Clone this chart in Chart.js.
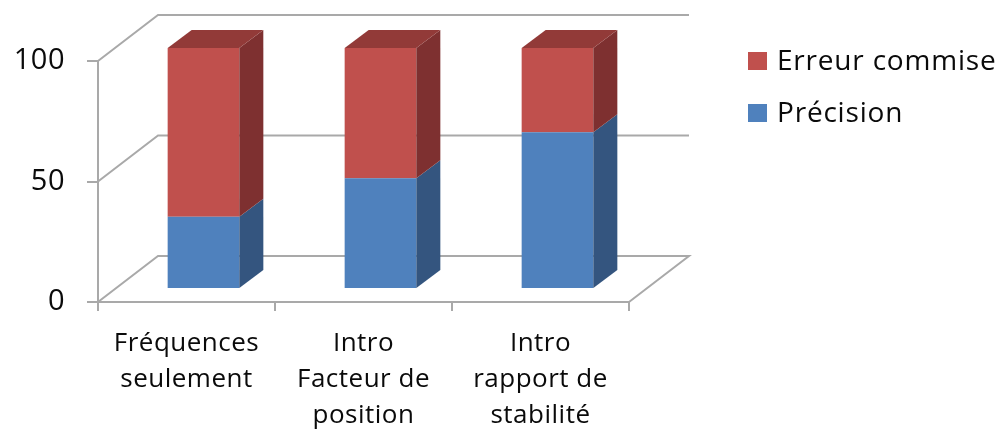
<!DOCTYPE html>
<html>
<head>
<meta charset="utf-8">
<script src="https://cdn.jsdelivr.net/npm/chart.js@4/dist/chart.umd.min.js"></script>
<style>
  html, body { margin: 0; padding: 0; background: #ffffff; }
  #wrap { width: 1008px; height: 431px; position: relative; }
</style>
</head>
<body>
<div id="wrap"><canvas id="chart"></canvas></div>
<script>
// ---- data ----
const categories = [
  ['Fréquences', 'seulement'],
  ['Intro', 'Facteur de', 'position'],
  ['Intro', 'rapport de', 'stabilité']
];
const precision = [30, 46, 65];
const erreur = [70, 54, 35];
const seriesNames = ['Précision', 'Erreur commise'];
const yTicks = [0, 50, 100];

// ---- styling ----
const FONT = 'Open Sans';
const TEXT = '#0a0a0a';
const GRID = '#a9a9a9';
const SPACING = '0.5px';
const BLUE = { front: '#4f81bd', side: '#34557f', top: '#3f6797' };
const RED  = { front: '#c0504d', side: '#7e3030', top: '#923a38' };

// oblique depth offsets (pixels)
const FRONT_DX = 17, FRONT_DY = -13;   // bar front faces sit behind the axis plane
const BAR_DX = 24,   BAR_DY = -18;     // thickness of each bar
const WALL_DX = 60,  WALL_DY = -46;    // back wall and floor depth

function poly(ctx, pts) {
  ctx.beginPath();
  ctx.moveTo(pts[0][0], pts[0][1]);
  for (let i = 1; i < pts.length; i++) ctx.lineTo(pts[i][0], pts[i][1]);
  ctx.closePath();
  ctx.fill();
}

// slightly wider text tracking for every label
const tracking = {
  id: 'tracking',
  beforeUpdate(chart) { chart.ctx.letterSpacing = SPACING; },
  beforeDraw(chart) { chart.ctx.letterSpacing = SPACING; }
};

// back wall, floor and the extruded sides/tops of the bars
const box3d = {
  id: 'box3d',
  beforeDatasetsDraw(chart) {
    const { ctx, chartArea: a, scales: { y } } = chart;
    ctx.save();
    ctx.strokeStyle = GRID;
    ctx.lineWidth = 2;
    yTicks.forEach(v => {
      const py = y.getPixelForValue(v);
      ctx.beginPath();
      ctx.moveTo(a.left, py);
      ctx.lineTo(a.left + WALL_DX, py + WALL_DY);
      ctx.lineTo(a.right + WALL_DX, py + WALL_DY);
      if (v === yTicks[0]) ctx.lineTo(a.right, py);
      ctx.stroke();
    });
    ctx.restore();
    ctx.save();
    ctx.translate(FRONT_DX, FRONT_DY);
  },
  afterDatasetsDraw(chart) {
    const ctx = chart.ctx;
    const n = chart.data.datasets.length;
    chart.data.datasets.forEach((ds, di) => {
      const meta = chart.getDatasetMeta(di);
      meta.data.forEach(bar => {
        const { x, y, base, width } = bar.getProps(['x', 'y', 'base', 'width'], true);
        const l = x - width / 2, r = x + width / 2;
        ctx.fillStyle = ds.sideColor;
        poly(ctx, [[r, y], [r + BAR_DX, y + BAR_DY], [r + BAR_DX, base + BAR_DY], [r, base]]);
        if (di === n - 1) {
          ctx.fillStyle = ds.topColor;
          poly(ctx, [[l, y], [l + BAR_DX, y + BAR_DY], [r + BAR_DX, y + BAR_DY], [r, y]]);
        }
      });
    });
    ctx.restore();
  }
};

// legend on the right, top series first
const sideLegend = {
  id: 'sideLegend',
  afterDraw(chart) {
    const ctx = chart.ctx;
    const items = chart.data.datasets.map(ds => ({ label: ds.label, color: ds.backgroundColor })).reverse();
    ctx.save();
    ctx.font = '28px "' + FONT + '"';
    ctx.letterSpacing = '0.8px';
    ctx.textBaseline = 'middle';
    ctx.textAlign = 'left';
    items.forEach((it, i) => {
      const cy = 61 + i * 52;
      ctx.fillStyle = it.color;
      ctx.fillRect(748, cy - 9, 19, 18);
      ctx.fillStyle = TEXT;
      ctx.fillText(it.label, 777, cy + 1);
    });
    ctx.restore();
  }
};

Chart.defaults.font.family = FONT;
Chart.defaults.color = TEXT;

new Chart(document.getElementById('chart'), {
  type: 'bar',
  data: {
    labels: categories,
    datasets: [
      { label: seriesNames[0], data: precision, backgroundColor: BLUE.front, sideColor: BLUE.side, topColor: BLUE.top, borderWidth: 0, clip: false },
      { label: seriesNames[1], data: erreur, backgroundColor: RED.front, sideColor: RED.side, topColor: RED.top, borderWidth: 0, clip: false }
    ]
  },
  options: {
    responsive: true,
    maintainAspectRatio: false,
    animation: false,
    layout: { padding: { top: 61, right: 379, left: 0, bottom: 0 } },
    datasets: { bar: { categoryPercentage: 1.0, barPercentage: 0.405 } },
    plugins: { legend: { display: false }, tooltip: { enabled: false } },
    scales: {
      x: {
        stacked: true,
        afterFit(s) { s.height = 129; },
        grid: { offset: true, drawOnChartArea: false, drawTicks: true, tickLength: 9, color: GRID, lineWidth: 2 },
        border: { display: true, color: GRID, width: 2 },
        ticks: { font: { size: 26, lineHeight: 1.4 }, padding: 14, maxRotation: 0, autoSkip: false }
      },
      y: {
        stacked: true,
        min: 0,
        max: 100,
        afterFit(s) { s.width = 98; },
        afterBuildTicks(s) { s.ticks = yTicks.map(v => ({ value: v })); },
        grid: { drawOnChartArea: false, drawTicks: true, tickLength: 11, color: GRID, lineWidth: 2 },
        border: { display: true, color: GRID, width: 2 },
        ticks: { font: { size: 29 }, padding: 22 }
      }
    }
  },
  plugins: [tracking, box3d, sideLegend]
});
</script>
</body>
</html>
